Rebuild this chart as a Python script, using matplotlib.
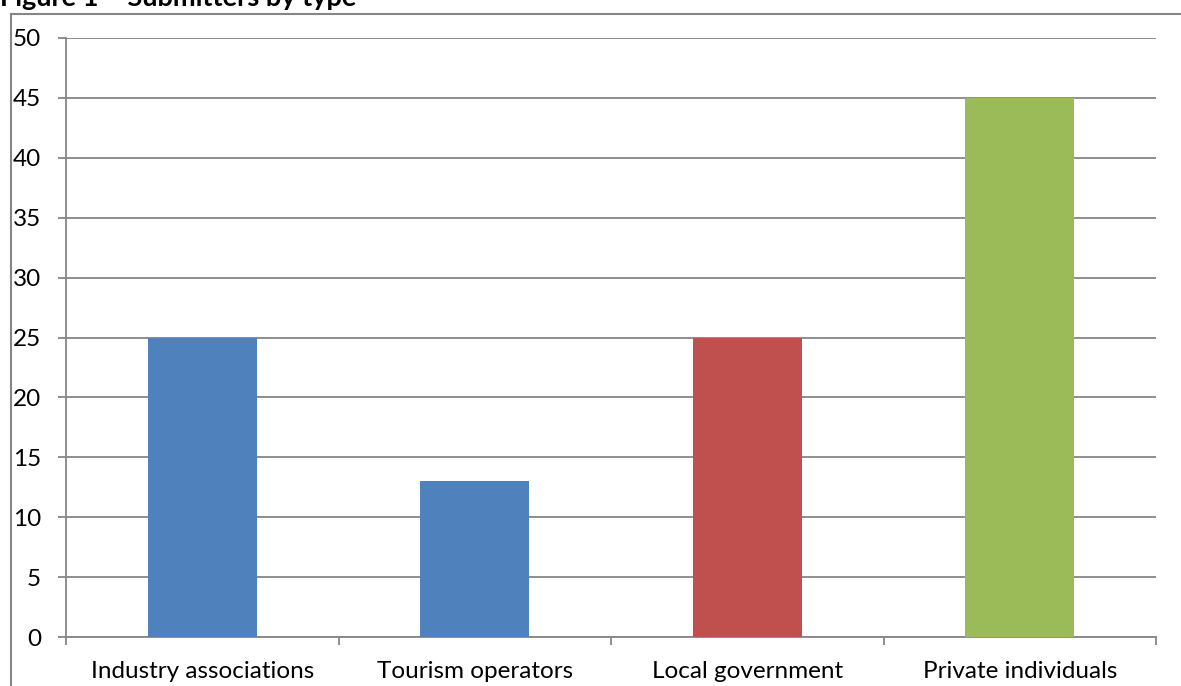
import matplotlib
matplotlib.use("Agg")
import matplotlib.pyplot as plt
from matplotlib.lines import Line2D
import numpy as np

categories = ["Industry associations", "Tourism operators", "Local government", "Private individuals"]
values = [25, 13, 25, 45]
colors = ["#4F81BD", "#4F81BD", "#C0504D", "#9BBB59"]
yticks = [0, 5, 10, 15, 20, 25, 30, 35, 40, 45, 50]

W, H = 1181, 686
plt.rcParams["font.family"] = ["Lato", "DejaVu Sans"]
fig = plt.figure(figsize=(W / 100, H / 100), dpi=100)

grey = "#868686"
fs = 17.5
tick_len = 5.8

# plot area in pixel terms
left, right, top, bottom = 66, 1156, 38, 637
ax = fig.add_axes([left / W, 1 - bottom / H, (right - left) / W, (bottom - top) / H])

x = np.arange(len(categories))
ax.bar(x, values, width=0.4, color=colors, zorder=3)
ax.set_xlim(-0.5, len(categories) - 0.5)
ax.set_ylim(0, 50)
ax.set_yticks(yticks)
ax.set_yticklabels([str(v) for v in yticks], fontsize=fs)
ax.yaxis.grid(True, color=grey, linewidth=1.3, zorder=0)
ax.set_axisbelow(True)

ax.set_xticks(np.arange(-0.5, len(categories), 1.0))
ax.set_xticklabels([])
ax.set_xticks(x, minor=True)
ax.set_xticklabels(categories, minor=True, fontsize=fs)
ax.tick_params(axis="x", which="minor", length=0, pad=17.5)
ax.tick_params(axis="x", which="major", length=tick_len, color=grey, width=1.3)
ax.tick_params(axis="y", length=tick_len, color=grey, width=1.3, pad=12)

for s in ["top", "right"]:
    ax.spines[s].set_visible(False)
for s in ["left", "bottom"]:
    ax.spines[s].set_color(grey)
    ax.spines[s].set_linewidth(1.3)

# outer chart frame (left and top edges visible)
fx = 10.5 / W
fy = 1 - 14 / H
fig.add_artist(Line2D([fx, fx], [0, fy], transform=fig.transFigure, color=grey, linewidth=1.5))
fig.add_artist(Line2D([fx, 1], [fy, fy], transform=fig.transFigure, color=grey, linewidth=1.5))

fig.text(0, 1 - 6 / H, "Figure 1 \u2013 Submitters by type", fontsize=19.5, fontweight="bold",
         ha="left", va="baseline")

fig.savefig("out.png", dpi=100)
